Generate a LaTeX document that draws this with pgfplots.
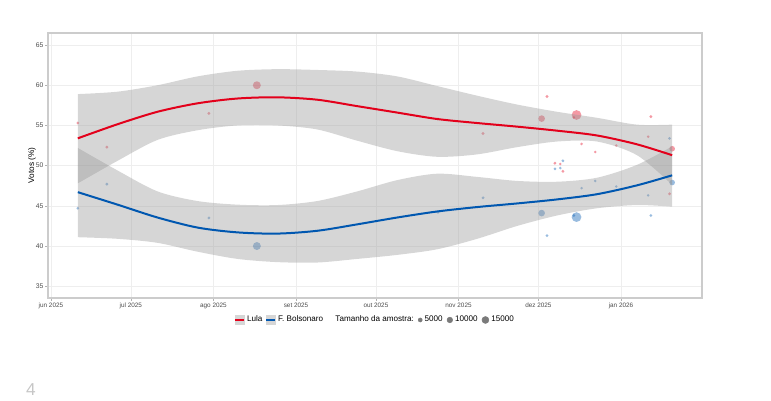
\documentclass[border=0pt]{standalone}
\usepackage{pgfplots}
\pgfplotsset{compat=1.18}
\usepgfplotslibrary{fillbetween}
\usepackage{fontspec}
\setmainfont{Liberation Sans}
\definecolor{lred}{HTML}{E3001B}
\definecolor{lblue}{HTML}{0057B0}
\definecolor{bandc}{HTML}{999999}
\definecolor{swatch}{HTML}{D6D6D6}
\definecolor{tickc}{HTML}{4D4D4D}
\definecolor{dotc}{HTML}{7A7A7A}

\pgfplotstableread{
d v n
10.1 55.3 3000
21.0 52.3 3000
59.3 56.5 3000
77.3 60.0 20000
145.3 55.8 3000
162.2 54.0 3000
184.2 55.85 14000
186.2 58.6 3000
189.2 50.3 3000
191.2 50.2 2500
192.2 49.3 3000
196.3 56.0 2500
197.3 56.3 30000
199.2 52.7 2500
204.3 51.7 2500
212.2 52.5 2500
224.2 53.6 2500
225.2 56.1 3000
232.2 46.5 3000
233.2 52.1 10000
}\lulapts
\pgfplotstableread{
d v n
10.1 44.7 3000
21.0 47.7 3000
59.3 43.5 3000
77.3 40.0 20000
145.3 44.2 3000
162.2 46.0 3000
184.2 44.1 14000
186.2 41.3 3000
189.2 49.6 3000
191.2 49.7 2500
192.2 50.6 3000
196.3 43.8 2500
197.3 43.6 30000
199.2 47.2 2500
204.3 48.1 2500
212.2 47.4 2500
224.2 46.3 2500
225.2 43.8 3000
232.2 53.4 3000
233.2 47.9 10000
}\bolspts
% smoothed fits and confidence bands (Lula)
\pgfplotstableread{
d fit lo hi
10.1 53.4 47.8 58.9
25 55.15 50.6 59.2
40 56.7 53.2 60.0
55 57.75 54.4 61.1
70 58.35 55.0 61.8
85 58.5 55.0 62.0
100 58.2 54.5 61.9
115 57.4 53.1 61.7
130 56.6 51.8 61.1
145 55.8 51.1 59.9
160 55.3 51.4 58.7
175 54.85 52.3 57.6
190 54.35 53.0 56.7
205 53.75 53.0 55.95
220 52.65 51.3 55.1
233.2 51.3 47.6 55.1
}\lulafit
% smoothed fits and confidence bands (F. Bolsonaro)
\pgfplotstableread{
d fit lo hi
10.1 46.7 41.1 52.2
25 45.15 40.9 49.4
40 43.55 40.4 46.8
55 42.3 39.3 45.6
70 41.7 38.4 45.15
85 41.55 38.0 45.1
100 41.9 37.95 45.6
115 42.7 38.4 46.8
130 43.55 38.9 48.2
145 44.3 39.6 49.0
160 44.85 40.9 48.6
175 45.3 42.5 48.1
190 45.8 43.8 48.0
205 46.45 44.7 48.5
220 47.55 45.1 50.1
233.2 48.8 44.9 52.4
}\bolsfit

\begin{document}
\begin{tikzpicture}[x=0.75bp,y=0.75bp]
\begin{axis}[
  set layers,
  clip marker paths=true,
  at={(36bp,75.75bp)}, anchor=south west,
  width=490.5bp, height=198.75bp, scale only axis,
  xmin=-1.1, xmax=244.4, ymin=33.54, ymax=66.5,
  xtick={0,30,61,92,122,153,183,214},
  xticklabels={jun 2025,jul 2025,ago 2025,set 2025,out 2025,nov 2025,dez 2025,jan 2026},
  ytick={35,40,45,50,55,60,65},
  /pgf/number format/assume math mode=true,
  xticklabel style={font=\fontsize{4.8}{5}\selectfont, text=tickc, inner sep=1.5bp},
  yticklabel style={font=\fontsize{5.1}{6}\selectfont, text=tickc, inner sep=1.2bp},
  xtick pos=bottom, ytick pos=left, tick align=outside,
  major tick length=2bp,
  tick style={color=gray!60, line width=0.5bp},
  axis line style={draw=gray!40, line width=0.9bp},
  grid=major, major grid style={color=gray!13, line width=0.5bp},
  ylabel={Votos (\%)},
  ylabel style={at={(axis description cs:-0.0245,0.5)}, anchor=center, font=\fontsize{6.2}{7}\selectfont},
  legend style={at={(0.5,-0.083)}, anchor=center, draw=none, fill=none,
    font=\fontsize{6.1}{7}\selectfont, column sep=0pt,
    nodes={inner xsep=1.6bp, inner ysep=0.5bp}},
  legend columns=-1,
  clip=true,
]
% points (on an earlier layer, so the bands lie over them)
\addplot[scatter, only marks, mark=*, forget plot, on layer=axis tick labels,
  mark options={draw opacity=0},
  scatter/use mapped color={draw=lred, draw opacity=0, fill=lred, fill opacity=0.4},
  visualization depends on={sqrt(\thisrow{n})*0.0212 \as \msize},
  scatter/@pre marker code/.append style={/tikz/mark size=\msize}]
  table[x=d,y=v] {\lulapts};
\addplot[scatter, only marks, mark=*, forget plot, on layer=axis tick labels,
  mark options={draw opacity=0},
  scatter/use mapped color={draw=lblue, draw opacity=0, fill=lblue, fill opacity=0.4},
  visualization depends on={sqrt(\thisrow{n})*0.0212 \as \msize},
  scatter/@pre marker code/.append style={/tikz/mark size=\msize}]
  table[x=d,y=v] {\bolspts};
% bands
\addplot[name path=ru, draw=none, smooth, forget plot] table[x=d,y=hi] {\lulafit};
\addplot[name path=rl, draw=none, smooth, forget plot] table[x=d,y=lo] {\lulafit};
\addplot[name path=bu, draw=none, smooth, forget plot] table[x=d,y=hi] {\bolsfit};
\addplot[name path=bl, draw=none, smooth, forget plot] table[x=d,y=lo] {\bolsfit};
\addplot[fill=bandc, fill opacity=0.4, draw=none, forget plot] fill between[of=ru and rl];
\addplot[fill=bandc, fill opacity=0.4, draw=none, forget plot] fill between[of=bu and bl];
% fits
\addplot[lred, line width=1.5bp, smooth, forget plot] table[x=d,y=fit] {\lulafit};
\addplot[lblue, line width=1.5bp, smooth, forget plot] table[x=d,y=fit] {\bolsfit};
% legend
\addlegendimage{legend image code/.code={\fill[swatch] (0bp,-3.2bp) rectangle (6.75bp,3.2bp); \draw[lred, line width=1.4bp] (0bp,0bp) -- (6.75bp,0bp);}}
\addlegendentry{Lula\hspace{0.5bp}\mbox{}}
\addlegendimage{legend image code/.code={\fill[swatch] (0bp,-3.2bp) rectangle (6.75bp,3.2bp); \draw[lblue, line width=1.4bp] (0bp,0bp) -- (6.75bp,0bp);}}
\addlegendentry{F. Bolsonaro\hspace{6bp}\mbox{}}
\addlegendimage{empty legend}
\addlegendentry{Tamanho da amostra:\hspace{1.5bp}\mbox{}}
\addlegendimage{legend image code/.code={\fill[dotc] (0bp,0bp) circle (1.5bp);}}
\addlegendentry{5000\hspace{1.5bp}\mbox{}}
\addlegendimage{legend image code/.code={\fill[dotc] (0bp,0bp) circle (2.1bp);}}
\addlegendentry{10000\hspace{1.5bp}\mbox{}}
\addlegendimage{legend image code/.code={\fill[dotc] (0bp,0bp) circle (2.6bp);}}
\addlegendentry{15000}
\end{axis}
\node[anchor=center, text=gray!45, font=\fontsize{13}{15}\selectfont] at (31,9) {4};
\path (0,0) rectangle (771,399);
\end{tikzpicture}
\end{document}
